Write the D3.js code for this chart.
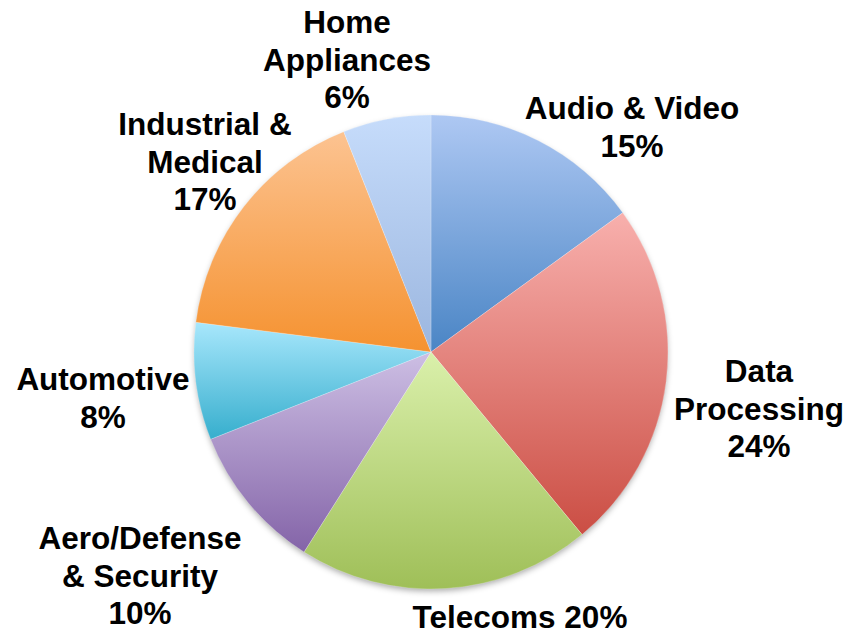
<!DOCTYPE html>
<html>
<head>
<meta charset="utf-8">
<script src="https://cdn.jsdelivr.net/npm/d3@7"></script>
<style>
  html, body { margin: 0; padding: 0; background: #ffffff; }
  svg { display: block; }
  .lbl { font-family: "Liberation Sans", Arial, sans-serif; font-weight: bold; font-size: 31.5px; fill: #000; }
</style>
</head>
<body>
<svg id="chart" width="845" height="636"></svg>
<script>
// Market segments, clockwise from 12 o'clock
const segments = ["Audio & Video", "Data Processing", "Telecoms", "Aero/Defense & Security", "Automotive", "Industrial & Medical", "Home Appliances"];
const shares = [15, 24, 20, 10, 8, 17, 6];
// Label text lines per segment
const labelLines = [
  ["Audio & Video", "15%"],
  ["Data", "Processing", "24%"],
  ["Telecoms 20%"],
  ["Aero/Defense", "& Security", "10%"],
  ["Automotive", "8%"],
  ["Industrial &", "Medical", "17%"],
  ["Home", "Appliances", "6%"]
];
// Gradient stops (top, bottom) for each slice
const topColors = ["#aec8f3", "#f8b0ad", "#daf0ab", "#cdbfe4", "#a8e7fc", "#fcc391", "#c6dcfb"];
const bottomColors = ["#4a85c5", "#cb4e44", "#9fbf58", "#8464a8", "#36aecd", "#f59230", "#9bb6df"];

const svg = d3.select("#chart");
const cx = 431, cy = 352, R = 237;

const defs = svg.append("defs");
const shadow = defs.append("filter").attr("id", "shadow")
  .attr("x", "-10%").attr("y", "-10%").attr("width", "120%").attr("height", "125%");
shadow.append("feDropShadow")
  .attr("dx", 0).attr("dy", 3).attr("stdDeviation", 3)
  .attr("flood-color", "#000").attr("flood-opacity", 0.35);

segments.forEach((s, i) => {
  const g = defs.append("linearGradient").attr("id", "grad" + i)
    .attr("x1", 0).attr("y1", 0).attr("x2", 0).attr("y2", 1);
  g.append("stop").attr("offset", "0%").attr("stop-color", topColors[i]);
  g.append("stop").attr("offset", "100%").attr("stop-color", bottomColors[i]);
});

const pie = d3.pie().value(d => d).sort(null);
const arcs = pie(shares);
const arc = d3.arc().innerRadius(0).outerRadius(R);

const gPie = svg.append("g").attr("transform", `translate(${cx},${cy})`);
// shadow base
gPie.append("circle").attr("r", R - 1).attr("fill", "#ffffff").attr("filter", "url(#shadow)");
gPie.selectAll("path.slice")
  .data(arcs)
  .join("path")
  .attr("class", "slice")
  .attr("d", arc)
  .attr("fill", (d, i) => `url(#grad${i})`)
  .attr("stroke", "rgba(255,255,255,0.35)")
  .attr("stroke-width", 0.6);

// Label anchor positions (centre x, first-line middle y)
const labelPos = [
  [632, 108],
  [759, 371],
  [520, 617],
  [140, 538],
  [103, 379],
  [205, 124],
  [347, 22]
];
const lineH = 37.5;

const gLab = svg.append("g");
labelLines.forEach((lines, i) => {
  const t = gLab.append("text").attr("class", "lbl")
    .attr("text-anchor", "middle")
    .attr("x", labelPos[i][0])
    .attr("y", labelPos[i][1] + 11.3);
  lines.forEach((ln, j) => {
    t.append("tspan").attr("x", labelPos[i][0]).attr("dy", j === 0 ? 0 : lineH).text(ln);
  });
});
</script>
</body>
</html>
